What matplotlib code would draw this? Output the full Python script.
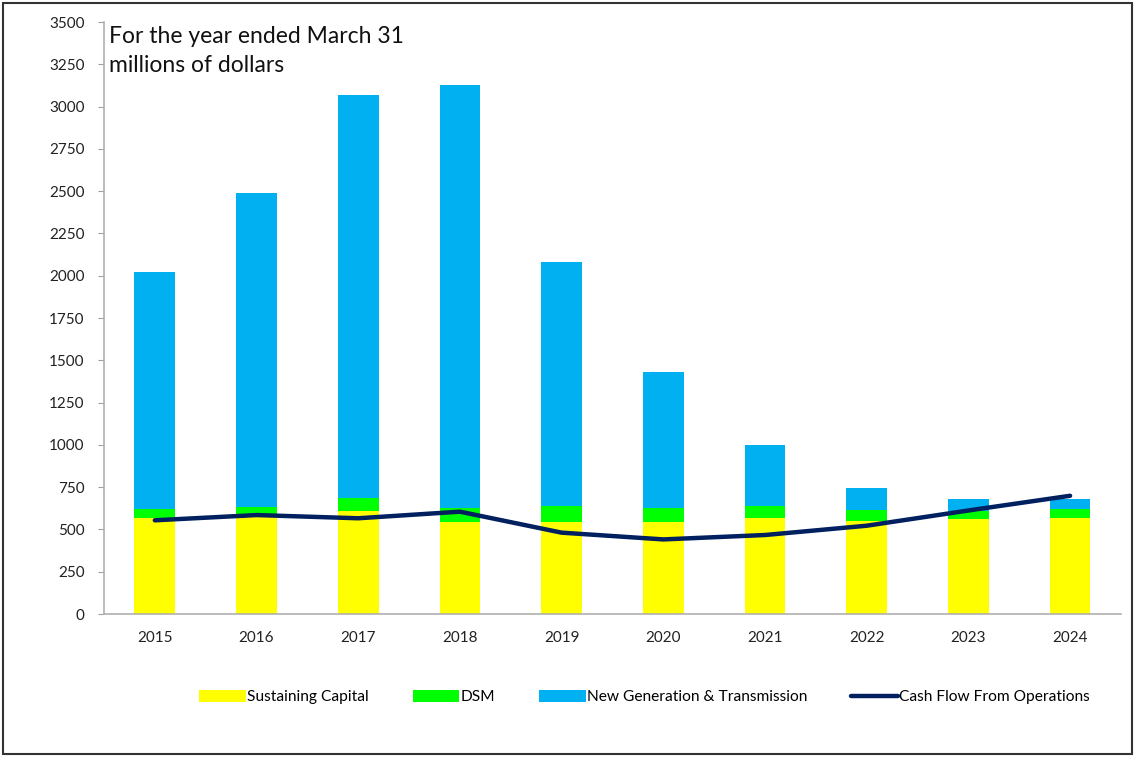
import matplotlib
matplotlib.use("Agg")
import matplotlib.pyplot as plt
from matplotlib.patches import Rectangle
import numpy as np

years = ["2015", "2016", "2017", "2018", "2019", "2020", "2021", "2022", "2023", "2024"]
sustaining = [566, 590, 609, 544, 544, 544, 569, 550, 561, 566]
dsm = [53, 45, 75, 84, 96, 81, 71, 65, 49, 54]
new_gen = [1401, 1855, 2386, 2497, 1440, 805, 360, 132, 68, 58]
cash_flow = [554, 585, 566, 605, 481, 441, 467, 522, 612, 699]
yticks = [0, 250, 500, 750, 1000, 1250, 1500, 1750, 2000, 2250, 2500, 2750, 3000, 3250, 3500]

plt.rcParams['font.family'] = ['Lato', 'DejaVu Sans']

fig = plt.figure(figsize=(11.35, 7.57), dpi=100)
ax = fig.add_axes([0.0916, 0.1889, 0.896, 0.782])

x = np.arange(len(years))
w = 0.4
s = np.array(sustaining)
d = np.array(dsm)
n = np.array(new_gen)
b1 = ax.bar(x, s, w, color="#FFFF00", label="Sustaining Capital", zorder=2)
b2 = ax.bar(x, d, w, bottom=s, color="#00FF00", label="DSM", zorder=2)
b3 = ax.bar(x, n, w, bottom=s + d, color="#00B0F0", label="New Generation & Transmission", zorder=2)
l1, = ax.plot(x, cash_flow, color="#002060", lw=3.2, solid_capstyle="round", label="Cash Flow From Operations", zorder=3)

ax.set_xlim(-0.5, len(years) - 0.5)
ax.set_ylim(0, 3500)
ax.set_yticks(yticks)
ax.set_xticks(x)
ax.set_xticklabels(years)
ax.tick_params(axis="y", labelsize=11, color="#A0A0A0", length=4, direction="out", pad=10, labelcolor="#222222")
ax.tick_params(axis="x", labelsize=11, length=0, pad=12, labelcolor="#222222")
for sp in ["top", "right"]:
    ax.spines[sp].set_visible(False)
for sp in ["left", "bottom"]:
    ax.spines[sp].set_color("#B0B0B0")
    ax.spines[sp].set_linewidth(1.2)

ax.text(0.005, 0.993, "For the year ended March 31\nmillions of dollars", transform=ax.transAxes,
        ha="left", va="top", fontsize=16.5, linespacing=1.45, color="#111111")

leg = fig.legend(handles=[b1, b2, b3, l1], loc="center", bbox_to_anchor=(0.568, 0.079), ncol=4, frameon=False,
                 fontsize=11.2, handlelength=3.0, handleheight=0.8, columnspacing=2.8, handletextpad=0.1)

fig.patches.append(Rectangle((0.003, 0.004), 0.994, 0.992, transform=fig.transFigure,
                             fill=False, edgecolor="#333333", lw=1.5))

fig.savefig("out.png", dpi=100)
